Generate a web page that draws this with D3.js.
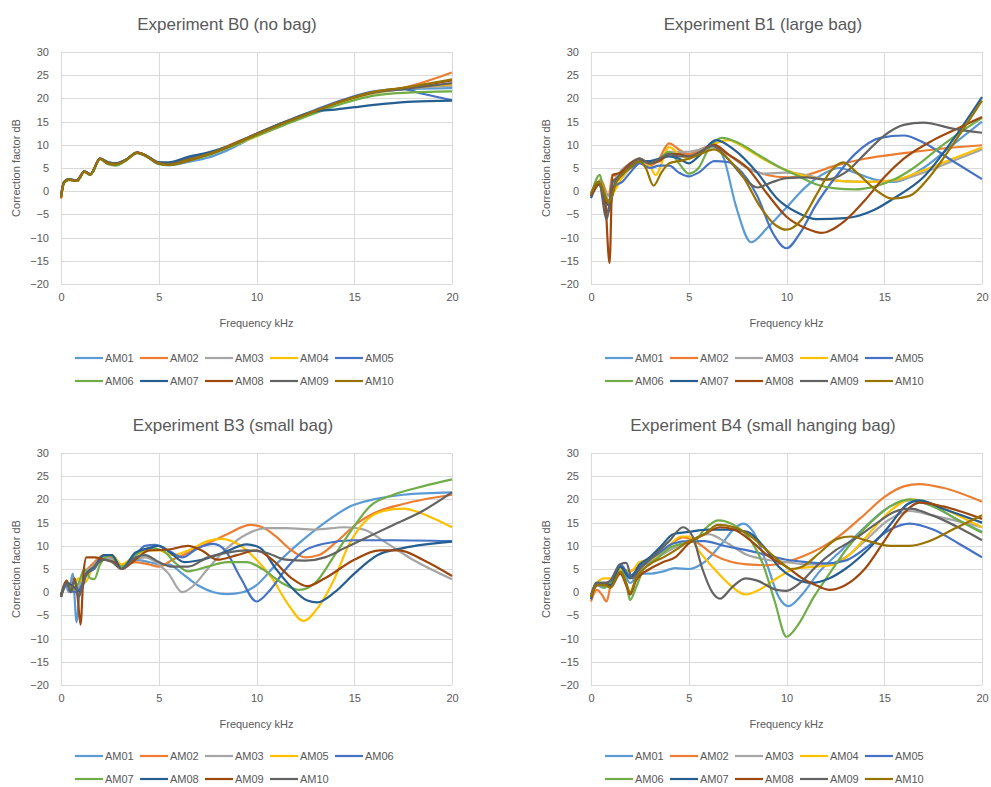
<!DOCTYPE html>
<html>
<head>
<meta charset="utf-8">
<script src="https://cdn.jsdelivr.net/npm/d3@7"></script>
<style>
    body { margin: 0; background: #fff; }
    svg text { font-family: "Liberation Sans", Arial, sans-serif; fill: #595959; }
</style>
</head>
<body>
<svg id="chart" width="991" height="787"></svg>
<script>
// ---- Data ([kHz, dB] points per microphone) ----
const xTicks = [0, 5, 10, 15, 20];
const yTicks = [30, 25, 20, 15, 10, 5, 0, -5, -10, -15, -20];

const palette = ['#5b9bd5', '#ed7d31', '#a5a5a5', '#ffc000', '#4472c4',
                 '#70ad47', '#255e91', '#9e480e', '#636363', '#997300'];

const titles = ['Experiment B0 (no bag)', 'Experiment B1 (large bag)',
                'Experiment B3 (small bag)', 'Experiment B4 (small hanging bag)'];

const names10 = ['AM01', 'AM02', 'AM03', 'AM04', 'AM05', 'AM06', 'AM07', 'AM08', 'AM09', 'AM10'];
const namesB3 = ['AM01', 'AM02', 'AM03', 'AM05', 'AM06', 'AM07', 'AM08', 'AM09', 'AM10'];

// B0, no bag
const b0 = [
    [[0,-1.3],[0.15,1.8],[0.4,2.5],[0.8,2.2],[1.2,4.2],[1.5,3.6],[2,7],[2.4,6],[2.8,5.8],[3.3,6.6],[3.9,8.3],[4.4,7.5],[5,6],[5.5,5.6],[6.5,6.3],[7.5,7.2],[8.5,8.8],[10,12],[11.5,14.7],[13,17.2],[14.5,19.5],[16,21.2],[17.5,22],[20,22.2]],
    [[0,-1.6],[0.15,1.8],[0.4,2.5],[0.8,2.2],[1.2,4.2],[1.5,3.6],[2,7],[2.4,6],[2.8,5.8],[3.3,6.7],[3.9,8.3],[4.4,7.5],[5,6],[5.5,5.8],[6.5,6.8],[7.5,8],[8.5,9.7],[10,12.4],[11.5,15],[13,17.4],[14.5,19.6],[16,21.3],[17.5,22.3],[20,25.6]],
    [[0,-1.2],[0.15,1.8],[0.4,2.5],[0.8,2.2],[1.2,4.2],[1.5,3.6],[2,7],[2.4,6],[2.8,5.7],[3.3,6.6],[3.9,8.2],[4.4,7.5],[5,6],[5.5,5.7],[6.5,6.6],[7.5,7.8],[8.5,9.4],[10,12.2],[11.5,14.8],[13,17.2],[14.5,19.4],[16,21.1],[17.5,22],[20,22.7]],
    [[0,-1.2],[0.15,1.9],[0.4,2.5],[0.8,2.2],[1.2,4.2],[1.5,3.6],[2,7],[2.4,6],[2.8,5.8],[3.3,6.6],[3.9,8.3],[4.4,7.5],[5,6],[5.5,5.7],[6.5,6.6],[7.5,7.8],[8.5,9.3],[10,11.8],[11.5,14.6],[13,17.1],[14.5,19.4],[16,21.2],[17.5,22.1],[20,23]],
    [[0,-1],[0.15,2],[0.4,2.6],[0.8,2.3],[1.2,4.3],[1.5,3.7],[2,7],[2.4,6.2],[2.8,5.9],[3.3,6.7],[3.9,8.3],[4.4,7.6],[5,6.2],[5.5,6],[6.5,7],[7.5,8],[8.5,9.5],[10,12.3],[11.5,15],[13,17.5],[14.5,19.8],[16,21.5],[17.5,22],[18.5,21],[20,19.6]],
    [[0,-1.2],[0.15,1.8],[0.4,2.4],[0.8,2.2],[1.2,4.1],[1.5,3.5],[2,6.9],[2.4,5.8],[2.8,5.5],[3.3,6.5],[3.9,8.2],[4.4,7.4],[5,5.8],[5.5,5.6],[6.5,6.5],[7.5,7.7],[8.5,9.3],[10,11.9],[11.5,14.4],[13,16.8],[14.5,19],[16,20.6],[17.5,21.2],[20,21.5]],
    [[0,-1],[0.15,2],[0.4,2.6],[0.8,2.3],[1.2,4.3],[1.5,3.7],[2,7],[2.4,6.3],[2.8,6],[3.3,6.8],[3.9,8.3],[4.4,7.6],[5,6.2],[5.5,6.2],[6.5,7.4],[7.5,8.3],[8.5,9.6],[10,12.4],[11.5,15],[13,17.2],[14,17.6],[15,18.1],[16.5,18.8],[18,19.3],[20,19.5]],
    [[0,-1.4],[0.15,1.8],[0.4,2.5],[0.8,2.2],[1.2,4.2],[1.5,3.6],[2,7],[2.4,6],[2.8,5.8],[3.3,6.7],[3.9,8.3],[4.4,7.5],[5,6],[5.5,5.7],[6.5,6.6],[7.5,7.9],[8.5,9.5],[10,12.3],[11.5,14.9],[13,17.3],[14.5,19.6],[16,21.3],[17.5,22.2],[20,23.9]],
    [[0,-1.2],[0.15,1.9],[0.4,2.5],[0.8,2.2],[1.2,4.2],[1.5,3.6],[2,7],[2.4,6.2],[2.8,6],[3.3,6.7],[3.9,8.3],[4.4,7.5],[5,6],[5.5,5.9],[6.5,6.9],[7.5,8],[8.5,9.5],[10,12.3],[11.5,14.9],[13,17.3],[14.5,19.6],[16,21.3],[17.5,22],[20,23.3]],
    [[0,-1.3],[0.15,1.8],[0.4,2.5],[0.8,2.2],[1.2,4.2],[1.5,3.6],[2,7],[2.4,6],[2.8,5.8],[3.3,6.6],[3.9,8.3],[4.4,7.5],[5,6],[5.5,5.7],[6.5,6.7],[7.5,7.9],[8.5,9.5],[10,12.2],[11.5,14.8],[13,17.3],[14.5,19.6],[16,21.4],[17.5,22.3],[20,24.1]]
];

// B1, large bag
const b1 = [
    [[0,-0.5],[0.3,1.5],[0.5,2],[0.9,-2],[1.2,2],[1.6,3],[2,5],[2.5,6.5],[3,6],[3.5,6.5],[4,8],[4.5,8.5],[5,8],[5.6,9],[6.3,10],[6.8,7],[7.4,-3],[8.2,-11],[9,-8],[10,-3.5],[11,1],[12,4],[12.7,5],[13.5,4],[14.5,2.5],[15.5,2],[17,5],[18.5,10],[20,15]],
    [[0,-1],[0.3,1],[0.5,2.5],[0.9,-1],[1.1,3.5],[1.5,3],[2,5.5],[2.5,7],[3,5.5],[3.4,6.5],[4,10.3],[4.5,9],[5,8],[5.6,9],[6.3,10],[7,8],[8,5],[9,3.5],[10,3],[11,3.5],[12.5,5.5],[14,7],[16,8.2],[18,9.2],[20,9.9]],
    [[0,-1],[0.4,2],[0.9,-1],[1.3,3],[2,6],[2.5,7],[3,6],[3.5,7],[4,8.5],[4.5,8.5],[5,8.5],[5.6,9],[6.3,9.5],[7,8],[8,5],[8.8,3.8],[10,4],[11,3.5],[12,2.5],[14,2],[15.5,2.2],[17,4],[18.5,6.5],[20,9]],
    [[0,-0.5],[0.4,2],[0.9,-2],[1.2,0],[1.6,3],[2,5],[2.5,6.5],[3,5.5],[3.3,3.5],[4,9.5],[4.5,8],[5,7],[5.6,8.5],[6.5,10.5],[7,11],[8,9],[9,6.5],[10,4.5],[11,3.2],[12,2.5],[14,2],[15.5,2.4],[17,4.5],[18.5,7],[20,9.4]],
    [[0,-1],[0.4,1.5],[0.9,-4.5],[1.2,1],[1.6,2],[2,4],[2.5,6],[3,5],[3.5,5.5],[4,5.5],[4.5,4],[5,3.2],[5.5,4],[6.3,6.5],[7,6.3],[7.5,5],[8.5,-1],[9.3,-9],[10,-12.3],[10.7,-9],[11.5,-3],[12.5,3],[13.5,8],[14.8,11.5],[16,12],[17,10.5],[18.5,6.5],[20,2.6]],
    [[0,-1],[0.45,3.5],[0.6,1],[0.9,-2],[1.3,2],[2,5],[2.5,6.5],[3,6],[3.5,7],[4,8.5],[4.5,6],[5,3.8],[5.5,5],[6,9],[6.7,11.5],[7.5,10.5],[8.5,8],[9.5,5.5],[10.5,3.5],[11.5,1.5],[12.5,0.6],[13.5,0.4],[14.5,1],[15.5,2.5],[16.5,5],[18,10],[19,13],[20,15.8]],
    [[0,-1.5],[0.4,1.5],[0.9,-3],[1.3,2.5],[2,5],[2.5,6.5],[3,6.5],[3.5,7],[4,7.5],[4.5,7],[5,6],[5.5,7.5],[6.4,11],[7.3,9],[8.5,4],[9.5,-1.5],[10.5,-4.5],[11.5,-6],[13,-5.8],[14.5,-4],[15.5,-1.5],[17,3],[18.5,11],[20,20.3]],
    [[0,-1],[0.4,1.5],[0.7,-1],[0.95,-15.5],[1.1,3.5],[1.5,4],[2,6],[2.5,7],[3,6],[3.5,6.5],[4,8],[4.5,8],[5,7.5],[5.6,8.5],[6.3,10],[7,8],[8,5],[9,-0.5],[10,-5.5],[11,-8],[11.8,-9],[12.8,-7],[14,-2],[15,3],[16,7],[17.5,11],[19,14],[20,16]],
    [[0,-0.5],[0.4,2],[0.8,-6],[1.1,2],[1.6,3.5],[2,5.5],[2.5,7],[3,6],[3.5,7],[4,8],[4.5,7.5],[5,7.5],[5.6,8.5],[6.2,9.8],[7,7],[7.8,3],[8.5,0.8],[9.3,2],[10,2.8],[11,3],[12,2.5],[13,4],[14,8],[15,12],[16,14.3],[17,14.8],[18.5,13.5],[20,12.6]],
    [[0,-0.5],[0.4,2],[0.9,-2.5],[1.3,2],[2,5],[2.5,6.5],[2.8,5],[3.2,1.2],[3.6,4],[4,6],[4.5,6.5],[5,7],[5.6,8],[6.3,9],[7,7],[7.8,3],[8.6,-3],[9.5,-7.5],[10,-8.3],[10.8,-6],[11.5,-1],[12.3,4.5],[12.9,6.2],[13.6,4],[14.5,0.5],[15.4,-1.6],[16.3,-1],[17.3,3],[18.5,10],[20,19.5]]
];

// B3, small bag
const b3 = [
    [[0,-1],[0.2,2],[0.4,0],[0.6,4],[0.8,-6.5],[0.95,0],[1.2,3],[1.6,5],[2,7],[2.5,7.5],[3.1,5],[3.8,7],[4.5,6.5],[5,6],[5.5,6],[6.2,4],[7,1.5],[7.8,0],[8.5,-0.4],[9.3,0],[10,1.5],[11,6],[12.3,11],[13.5,15],[14.8,18.5],[16,20],[17.5,21],[20,21.5]],
    [[0,-1],[0.3,2],[0.5,0],[0.7,3],[0.9,-1],[1.2,4],[1.6,6],[2.2,8],[2.6,7.5],[3.1,5.5],[3.8,6.5],[4.5,6],[5,5.5],[5.7,7],[6.5,8.5],[7.5,10.5],[8.5,12.5],[9.7,14.5],[10.3,14],[11,12],[11.8,9],[12.5,7.5],[13.2,8],[14,10.5],[15.2,15],[16,17],[17.5,19],[20,21]],
    [[0,-1],[0.3,1.5],[0.6,0],[0.9,1],[1.2,4],[1.6,5.5],[2.2,7.5],[2.6,7],[3.1,5],[3.8,7],[4.3,7.5],[5,6],[5.5,4],[6.2,0],[6.8,1.5],[7.5,5],[8.5,9.5],[9.5,12.5],[10.5,13.8],[11.5,13.8],[13,13.5],[14.5,14],[15.5,13.5],[16.5,11],[18,7],[20,2.8]],
    [[0,-0.5],[0.3,2],[0.6,1],[0.9,3],[1.2,2],[1.6,5],[2.2,7.5],[2.6,8],[3.1,6],[3.8,8],[4.5,9],[5,9],[5.7,8],[6.5,9],[7.5,11],[8.2,11.5],[9,10.5],[10,7],[10.8,3],[11.6,-2.5],[12.4,-6.2],[13.2,-3],[14,3],[14.7,10],[15.5,15],[16.5,17.5],[17.5,18],[19,16],[20,14]],
    [[0,-0.5],[0.3,1.5],[0.7,0],[1,1],[1.3,4],[1.7,5],[2.2,8],[2.6,8],[3.1,5],[3.8,8],[4.3,10],[4.8,10.2],[5.5,9],[6.2,7.5],[7,9.5],[7.8,10.4],[8.4,9],[9.2,3],[10,-2],[10.7,0.5],[11.5,5],[12.3,8.5],[13.5,10.5],[15,11.2],[17,11.2],[20,11]],
    [[0,-0.5],[0.3,2],[0.6,0.5],[0.9,2],[1.2,5],[1.5,3],[1.7,2.8],[2,6],[2.5,8],[3.1,5.5],[3.8,8],[4.5,9.5],[5.2,9],[5.8,6.5],[6.5,4.5],[7.5,5.5],[8.5,6.5],[9.5,6.5],[10.3,5],[11.3,2],[12.2,0.5],[13,2],[14,8],[14.8,13],[15.8,18.5],[17,21],[18.5,22.8],[20,24.3]],
    [[0,-0.5],[0.3,2],[0.7,1],[1,0],[1.3,4],[1.7,5.5],[2.2,8],[2.6,8],[3.1,5],[3.8,8.5],[4.5,9.5],[5,10],[5.6,8.5],[6.3,6.5],[7.2,7],[8.3,8.5],[9.5,10.3],[10.2,9.5],[11,5],[11.8,1],[12.6,-1.8],[13.1,-2.2],[14,0],[15,4],[16.2,8],[17.5,9.5],[20,10.9]],
    [[0,-1],[0.3,2.5],[0.5,0],[0.7,3],[0.85,-1],[1,-7],[1.15,4],[1.3,7.5],[1.7,7.5],[2.2,7],[2.7,6.5],[3.1,5],[3.8,7],[4.5,9],[5.5,9.2],[6.5,10],[7.2,9],[8,7],[9,8],[10,9],[10.8,7],[11.8,3],[12.6,1.3],[13.5,3],[15,7],[16.3,9],[17.3,9],[18.5,7],[20,3.5]],
    [[0,-1],[0.3,2],[0.5,0],[0.7,2.5],[0.9,-1],[1.2,3],[1.6,5],[2.2,7],[2.6,6.5],[3.1,5],[3.8,7.5],[4.3,8],[5,6.5],[5.7,5.5],[6.5,5.5],[7.5,7.5],[8.5,8.5],[9.5,9],[10.5,8.5],[11.5,7],[12.5,6.8],[13.5,7.5],[14.5,9.5],[15.5,11.5],[17,14.5],[18.5,17.5],[20,21.5]]
];

// B4, small hanging bag
const b4 = [
    [[0,-1],[0.3,1.5],[0.6,1],[1,2],[1.5,5.5],[2,2],[2.5,4],[3,4],[3.7,4.5],[4.3,5.2],[5,5],[5.8,6.5],[6.7,10.5],[7.4,14],[7.8,14.8],[8.3,13],[9,6],[9.6,-1],[10.1,-3],[10.8,-0.5],[11.6,4],[12.8,9],[14,14],[15.3,18.5],[16.3,19.8],[17.5,18.5],[18.8,15.5],[20,13]],
    [[0,-2],[0.3,0.5],[0.55,-0.5],[0.8,-2],[1,1.5],[1.5,5],[2,4.5],[2.5,6],[3,7],[3.5,8],[4,10],[4.7,11.8],[5.5,10.5],[6.3,8],[7.2,6.5],[8,6],[9,5.8],[10,6.5],[11,8],[12.5,11.5],[13.8,16],[15,20.5],[16,22.8],[16.8,23.3],[18,22.5],[20,19.5]],
    [[0,-1],[0.3,2],[0.7,1],[1,2.5],[1.5,5.5],[2,3.5],[2.5,5.5],[3,6.5],[4,9],[5,11],[6,12.5],[7,10.5],[8,8],[9,7],[10,6.5],[11,6],[12,6],[13,7.5],[14,11],[15.2,15.5],[16.3,17.5],[17.5,16.5],[20,14]],
    [[0,-1],[0.3,2],[0.7,3],[1,3],[1.5,5],[2,4.5],[2.5,6.5],[3,7],[3.5,8],[4,10],[4.6,12],[5,12],[5.5,9],[6.2,5.5],[7,2],[7.9,-0.5],[8.6,0.5],[9.5,3],[10.4,5],[11.5,5.5],[12.3,5.8],[13.2,8],[14.2,12.5],[15.3,17.5],[16.4,20],[17.5,19],[18.8,16.5],[20,14]],
    [[0,-1],[0.3,2],[0.7,1.5],[1,2.5],[1.5,6],[2,3.5],[2.5,5.5],[3,7],[3.5,8.5],[4.2,10.5],[5,11],[5.8,11],[6.8,10],[8,9],[9,8],[10,7],[11,6.5],[12,6.2],[13,6.8],[14.2,10],[15.3,13.5],[16.3,14.8],[17.5,13.5],[18.8,10.5],[20,7.5]],
    [[0,-1],[0.3,2],[0.7,1],[1,2],[1.5,5.5],[1.8,2],[2,-1.7],[2.3,1],[2.7,5],[3.3,7],[4,9.5],[4.7,10.5],[5.3,11],[5.8,13.5],[6.5,15.5],[7.3,14.5],[8.2,11],[8.8,6],[9.4,-2],[10,-9.6],[10.6,-7],[11.4,-1],[12.2,4],[13.2,10],[14.3,15],[15.3,18.5],[16.3,20],[17.5,18.5],[18.8,15.5],[20,12.8]],
    [[0,-1.5],[0.3,2],[0.7,2],[1,1.5],[1.5,5.5],[2,3],[2.5,6],[3,7.5],[3.6,10],[4.2,12.5],[5,13],[6,13.5],[7,13.5],[8,13],[8.8,10],[9.6,5.5],[10.4,3],[11.3,2],[12.2,3],[13,5],[14,8.5],[15.2,14],[16.2,19],[16.8,19.8],[18,18],[20,15]],
    [[0,-1],[0.3,1.5],[0.7,2],[1,1],[1.5,4],[1.8,1.5],[2,-0.5],[2.3,2.5],[3,5],[3.7,6.5],[4.3,7.5],[5,10.5],[5.8,12.5],[6.6,14],[7.3,13.5],[8.2,11],[9,8],[10,5.5],[10.8,3],[11.5,1.5],[12.2,0.5],[13,1.5],[14,5],[15,11],[16,17],[16.8,19.3],[18,18.5],[20,15.8]],
    [[0,-0.5],[0.3,2],[0.7,2],[1,2.5],[1.5,6],[1.8,6.3],[2.1,3],[2.5,5],[3,7],[3.5,9],[4,11],[4.7,14],[5.2,12],[5.7,5],[6.2,0],[6.6,-1.4],[7.2,1],[7.9,3],[8.5,2.5],[9.5,0.5],[10,0.3],[10.7,2],[11.5,5.5],[12.5,9],[13.5,11.5],[14.5,14.5],[15.5,17.3],[16.3,18],[17.5,16.5],[19,13.5],[20,11.2]],
    [[0,-1],[0.3,1.5],[0.7,1.5],[1,1],[1.5,4.5],[1.8,2],[2,0],[2.3,3],[3,6],[3.7,7.5],[4.3,9],[5,11],[5.8,12.5],[6.5,14.5],[7.3,14],[8.2,12],[9,9],[9.7,6.5],[10.2,5],[10.8,5.5],[11.7,8.5],[12.6,11.5],[13.3,12],[14.2,11],[15.3,10],[16.3,10],[17.3,11],[18.5,13.5],[20,16.6]]
];

// ---- Layout ----
let c = {
    plot: { width: 391, height: 232 },
    legend: { step: 65, line: 28, row: 23 }
};

let panels = [
    { left: 61,  top: 52,  titleX: 227, titleY: 30,  legendY: 358, curves: b0, names: names10 },
    { left: 591, top: 52,  titleX: 763, titleY: 30,  legendY: 358, curves: b1, names: names10 },
    { left: 61,  top: 453, titleX: 233, titleY: 431, legendY: 756, curves: b3, names: namesB3 },
    { left: 591, top: 453, titleX: 763, titleY: 431, legendY: 756, curves: b4, names: names10 }
];

let svg = d3.select('#chart');

panels.forEach((p, i) => drawPanel(p, titles[i]));

/**
 * Draw one experiment: grid, axes, lines and legend
 */
function drawPanel(p, title) {
    let w = c.plot.width, h = c.plot.height;
    let x = d3.scaleLinear().domain([0, 20]).range([0, w]);
    let y = d3.scaleLinear().domain([-20, 30]).range([h, 0]);

    svg.append('text')
        .attr('x', p.titleX).attr('y', p.titleY)
        .attr('text-anchor', 'middle')
        .style('font-size', '17px')
        .text(title);

    let g = svg.append('g').attr('transform', translate(p.left, p.top));

    // grid
    g.append('g').selectAll('line').data(yTicks).join('line')
        .attr('x1', 0).attr('x2', w)
        .attr('y1', d => Math.round(y(d)) + 0.5).attr('y2', d => Math.round(y(d)) + 0.5)
        .attr('stroke', '#d9d9d9');
    g.append('g').selectAll('line').data(xTicks).join('line')
        .attr('y1', 0).attr('y2', h)
        .attr('x1', d => Math.round(x(d)) + 0.5).attr('x2', d => Math.round(x(d)) + 0.5)
        .attr('stroke', '#d9d9d9');

    // axes, text only
    let yAxis = g.append('g').call(d3.axisLeft(y).tickValues(yTicks).tickSize(0).tickPadding(12));
    let xAxis = g.append('g').attr('transform', translate(0, h))
        .call(d3.axisBottom(x).tickValues(xTicks).tickSize(0).tickPadding(9));
    [yAxis, xAxis].forEach(a => {
        a.select('.domain').remove();
        a.selectAll('text').style('font-size', '11px').attr('fill', '#595959')
            .style('font-family', '"Liberation Sans", Arial, sans-serif');
    });

    g.append('text')
        .attr('transform', translate(-41, h / 2) + ' rotate(-90)')
        .attr('text-anchor', 'middle')
        .style('font-size', '11px')
        .text('Correction factor dB');
    g.append('text')
        .attr('x', w / 2).attr('y', h + 43)
        .attr('text-anchor', 'middle')
        .style('font-size', '11px')
        .text('Frequency kHz');

    // lines
    let line = d3.line()
        .x(d => x(d[0]))
        .y(d => y(d[1]))
        .curve(d3.curveMonotoneX);
    g.append('g').selectAll('path').data(p.curves).join('path')
        .attr('d', line)
        .attr('fill', 'none')
        .attr('stroke', (d, k) => palette[k])
        .attr('stroke-width', 2.2)
        .attr('stroke-linejoin', 'round');

    // legend, two rows of five
    let lg = svg.append('g').attr('transform', translate(p.left + 14, p.legendY));
    let items = lg.selectAll('g').data(p.names).join('g')
        .attr('transform', (d, k) => translate((k % 5) * c.legend.step, Math.floor(k / 5) * c.legend.row));
    items.append('line')
        .attr('x1', 0).attr('x2', c.legend.line)
        .attr('stroke', (d, k) => palette[k])
        .attr('stroke-width', 2.2);
    items.append('text')
        .attr('x', c.legend.line + 2).attr('dy', '0.35em')
        .style('font-size', '11px')
        .text(d => d);
}

function translate(x, y) {
    return 'translate(' + x + ',' + y + ')';
}
</script>
</body>
</html>
